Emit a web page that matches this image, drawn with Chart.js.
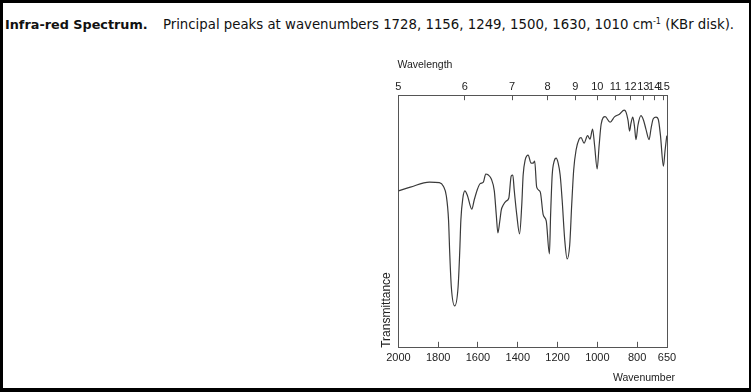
<!DOCTYPE html>
<html>
<head>
<meta charset="utf-8">
<script src="https://cdn.jsdelivr.net/npm/chart.js@4.4.1/dist/chart.umd.min.js"></script>
<style>
  html, body { margin: 0; padding: 0; background: #fff; }
  .frame {
    position: relative;
    width: 751px; height: 392px;
    box-sizing: border-box;
    border-style: solid; border-color: #000;
    border-width: 3px 2px 4px 3px;
  }
  .caption {
    position: absolute; left: 2px; top: 14px;
    font-family: "DejaVu Sans", sans-serif; font-size: 13.3px; color: #111;
    white-space: nowrap;
  }
  .caption b { font-size: 12.8px; margin-right: 11px; }
  #irChart { position: absolute; left: 352px; top: 47px; }
</style>
</head>
<body>
<div class="frame">
  <div class="caption"><b>Infra-red Spectrum.</b> Principal peaks at wavenumbers 1728, 1156, 1249, 1500, 1630, 1010 cm<sup style="font-size:8px">-1</sup> (KBr disk).</div>
  <canvas id="irChart" width="335" height="338"></canvas>
</div>
<script>
// --- Spectrum data ---
const wavenumbers = [
  2000, 1940, 1844, 1794, 1774, 1759, 1748, 1742, 1734, 1717,
  1700, 1692, 1686, 1676, 1666, 1654, 1631, 1619, 1604, 1589,
  1573, 1561, 1548, 1533, 1518, 1508, 1500, 1491, 1483, 1473,
  1458, 1445, 1433, 1425, 1418, 1405, 1391, 1380, 1373, 1363,
  1348, 1333, 1323, 1315, 1305, 1287, 1272, 1257, 1241, 1235,
  1227, 1217, 1207, 1197, 1187, 1177, 1164, 1152, 1139, 1129,
  1119, 1107, 1092, 1082, 1067, 1049, 1037, 1024, 1014, 1001,
  991, 981, 961, 936, 914, 889, 865, 856, 846, 838,
  831, 822, 813, 806, 796, 781, 768, 756, 740, 730,
  719, 705, 694, 683, 668, 660, 651
];
const transmittance = [
  62.1, 63.6, 65.6, 65.4, 64.0, 60.1, 50.6, 37.5, 24.1, 16.6,
  24.1, 37.5, 50.6, 59.3, 62.1, 60.5, 54.9, 58.5, 62.5, 65.0,
  65.6, 68.8, 68.4, 66.8, 62.1, 52.6, 45.5, 49.8, 54.5, 56.5,
  58.1, 59.3, 68.0, 68.4, 62.5, 52.6, 45.1, 56.5, 68.4, 74.3,
  76.3, 73.1, 73.1, 73.9, 63.6, 61.7, 52.6, 50.2, 37.2, 52.6,
  68.4, 73.9, 75.1, 73.1, 68.4, 58.5, 42.7, 35.2, 40.7, 56.5,
  70.4, 78.3, 82.6, 83.2, 81.0, 84.0, 82.6, 86.6, 80.2, 70.8,
  80.2, 88.5, 91.5, 89.3, 91.4, 92.5, 94.1, 93.3, 90.1, 85.8,
  88.9, 91.3, 87.4, 82.4, 88.1, 91.9, 90.1, 86.6, 82.4, 86.9,
  90.7, 91.3, 90.5, 84.2, 71.9, 77.9, 84.0
];
const wavenumberTicks = [2000, 1800, 1600, 1400, 1200, 1000, 800, 650];
const wavelengthTicks = [5, 6, 7, 8, 9, 10, 11, 12, 13, 14, 15];

const axisColor = '#555';
const textColor = '#222';
const fontFamily = '"Liberation Sans", Arial, sans-serif';

const points = wavenumbers.map((wn, i) => ({ x: wn, y: transmittance[i] }));

// horizontal axis titles: the reversed axes flip Chart.js' own title alignment,
// so these two are drawn next to the plot edges here
const axisTitles = {
  id: 'axisTitles',
  afterDraw(chart) {
    const { ctx, chartArea } = chart;
    ctx.save();
    ctx.fillStyle = textColor;
    ctx.font = '10.5px ' + fontFamily;
    ctx.textBaseline = 'middle';
    ctx.textAlign = 'left';
    ctx.fillText('Wavelength', chartArea.left - 1, chartArea.top - 30);
    ctx.textAlign = 'right';
    ctx.fillText('Wavenumber', chartArea.right + 8, chartArea.bottom + 30);
    ctx.restore();
  }
};

const irCtx = document.getElementById('irChart').getContext('2d');
const irChart = new Chart(irCtx, {
  type: 'line',
  data: {
    datasets: [{
      data: points,
      borderColor: '#3a3a3a',
      borderWidth: 1.2,
      pointRadius: 0,
      cubicInterpolationMode: 'monotone',
      fill: false
    }]
  },
  options: {
    responsive: false,
    animation: false,
    layout: { padding: { left: 24, right: 23, top: 23, bottom: 13 } },
    plugins: { legend: { display: false }, tooltip: { enabled: false } },
    scales: {
      x: {
        type: 'linear', position: 'bottom', min: 650, max: 2000, reverse: true,
        afterBuildTicks: (axis) => { axis.ticks = wavenumberTicks.map(v => ({ value: v })); },
        ticks: { autoSkip: false, maxRotation: 0, padding: 10, color: textColor,
                 font: { family: fontFamily, size: 11 },
                 callback: (v) => String(v) },
        grid: { drawOnChartArea: false, drawTicks: true, tickLength: -6, color: axisColor },
        border: { color: axisColor, width: 1 }
      },
      x2: {
        type: 'linear', position: 'top', min: 650, max: 2000, reverse: true,
        afterBuildTicks: (axis) => { axis.ticks = wavelengthTicks.map(l => ({ value: 10000 / l })); },
        ticks: { autoSkip: false, maxRotation: 0, padding: 7, color: textColor,
                 font: { family: fontFamily, size: 11 },
                 callback: (v) => String(Math.round(10000 / v)) },
        grid: { drawOnChartArea: false, drawTicks: true, tickLength: -5, color: axisColor },
        border: { color: axisColor, width: 1 }
      },
      y: {
        min: 0, max: 100,
        ticks: { display: false },
        grid: { drawOnChartArea: false, drawTicks: false },
        border: { color: axisColor, width: 1 },
        title: { display: true, text: 'Transmittance', align: 'start', color: textColor,
                 font: { family: fontFamily, size: 12 }, padding: { top: 0, bottom: 5 } }
      },
      y2: {
        position: 'right', min: 0, max: 100,
        ticks: { display: false },
        grid: { drawOnChartArea: false, drawTicks: false },
        border: { color: axisColor, width: 1 }
      }
    }
  },
  plugins: [axisTitles]
});
</script>
</body>
</html>
